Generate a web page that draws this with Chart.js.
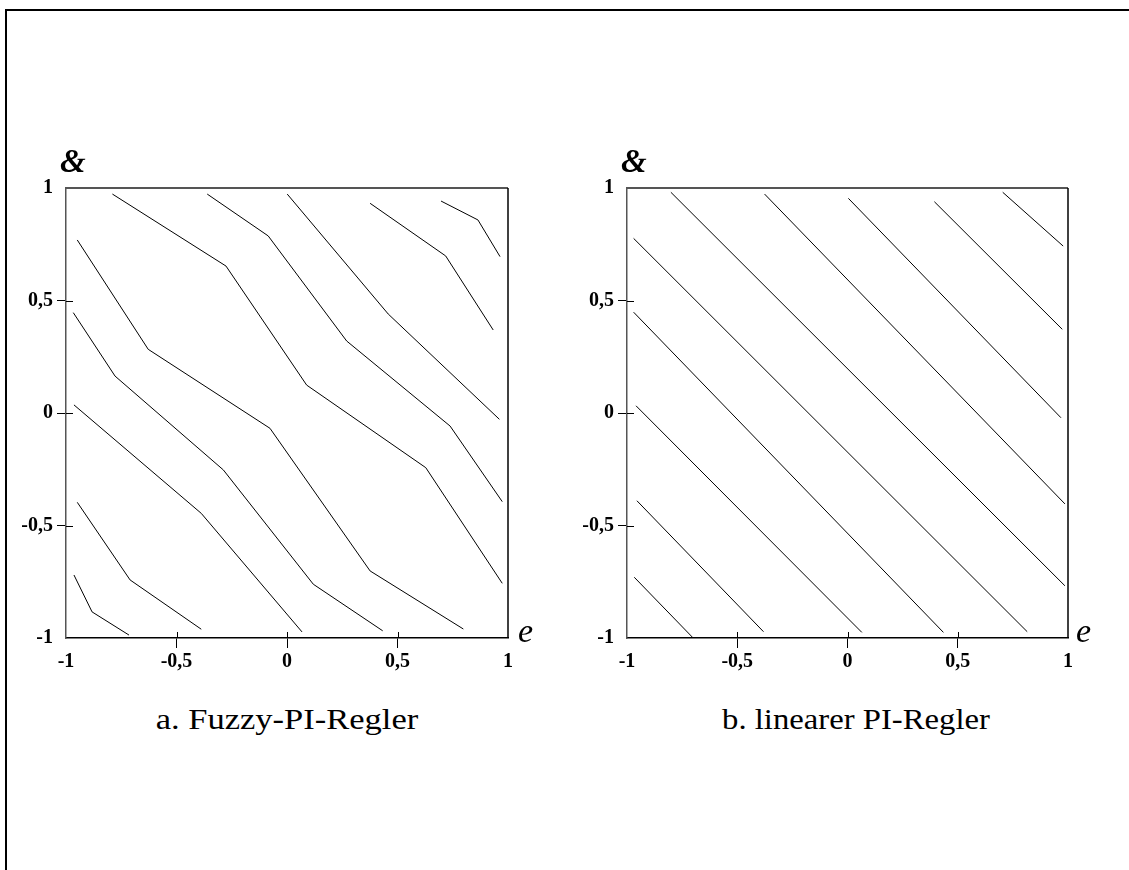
<!DOCTYPE html>
<html>
<head>
<meta charset="utf-8">
<script src="https://cdn.jsdelivr.net/npm/chart.js@4"></script>
<style>
  html, body { margin: 0; padding: 0; background: #fff; overflow: hidden; width: 1129px; height: 870px; }
  #frame { position: absolute; left: 5px; top: 9px; width: 1300px; height: 1000px;
           border-top: 2px solid #000; border-left: 2px solid #000; }
  canvas { position: absolute; }
  .lbl { position: absolute; font-family: "Liberation Serif", "Times New Roman", serif; color: #000;
         white-space: nowrap; line-height: 1; }
  .amp { font-size: 33px; font-style: italic; font-weight: bold; }
  .e { font-size: 34px; font-style: italic; }
  .cap { font-size: 30px; transform: translateX(-50%) scaleX(1.15); }
  .cap.b { transform: translateX(-50%) scaleX(1.09); }
</style>
</head>
<body>
<div id="frame"></div>
<canvas id="fuzzyCanvas" width="565" height="540" style="left:0;top:140px"></canvas>
<canvas id="linearCanvas" width="564" height="540" style="left:565px;top:140px"></canvas>

<div class="lbl amp" style="left:60px;top:145px">&amp;</div>
<div class="lbl amp" style="left:621px;top:145px">&amp;</div>
<div class="lbl e" style="left:518px;top:614px">e</div>
<div class="lbl e" style="left:1076px;top:614px">e</div>
<div class="lbl cap" style="left:287px;top:704px">a. Fuzzy-PI-Regler</div>
<div class="lbl cap b" style="left:856px;top:704px">b. linearer PI-Regler</div>

<script>
// tick positions and labels (German decimal comma)
var tickValues = [-1, -0.5, 0, 0.5, 1];
var tickLabels = ["-1", "-0,5", "0", "0,5", "1"];
var innerTicks = [-0.5, 0, 0.5];

// a. Fuzzy-PI-Regler, contour lines as [e, de] points
var fuzzy1 = [[-0.964, -0.72], [-0.882, -0.884], [-0.715, -0.987]];
var fuzzy2 = [[-0.949, -0.397], [-0.71, -0.742], [-0.388, -0.961]];
var fuzzy3 = [[-0.964, 0.036], [-0.388, -0.446], [0.068, -0.973]];
var fuzzy4 = [[-0.967, 0.446], [-0.778, 0.164], [-0.288, -0.253], [0.119, -0.761], [0.433, -0.968]];
var fuzzy5 = [[-0.949, 0.769], [-0.628, 0.283], [-0.077, -0.068], [0.376, -0.702], [0.798, -0.96]];
var fuzzy6 = [[-0.79, 0.973], [-0.276, 0.653], [0.089, 0.124], [0.628, -0.243], [0.974, -0.757]];
var fuzzy7 = [[-0.361, 0.973], [-0.085, 0.787], [0.27, 0.32], [0.738, -0.058], [0.974, -0.394]];
var fuzzy8 = [[0.001, 0.973], [0.458, 0.44], [0.961, -0.028]];
var fuzzy9 = [[0.376, 0.932], [0.718, 0.698], [0.933, 0.369]];
var fuzzy10 = [[0.697, 0.942], [0.864, 0.858], [0.964, 0.695]];

// b. linearer PI-Regler
var linear1 = [[-0.967, -0.73], [-0.703, -0.997]];
var linear2 = [[-0.955, -0.39], [-0.381, -0.972]];
var linear3 = [[-0.959, 0.032], [0.065, -0.975]];
var linear4 = [[-0.97, 0.448], [0.435, -0.975]];
var linear5 = [[-0.97, 0.776], [0.815, -0.972]];
var linear6 = [[-0.801, 0.981], [0.986, -0.768]];
var linear7 = [[-0.376, 0.973], [0.986, -0.404]];
var linear8 = [[0.004, 0.954], [0.968, -0.021]];
var linear9 = [[0.394, 0.939], [0.974, 0.372]];
var linear10 = [[0.704, 0.981], [0.978, 0.742]];

var fuzzyLines = [fuzzy1, fuzzy2, fuzzy3, fuzzy4, fuzzy5, fuzzy6, fuzzy7, fuzzy8, fuzzy9, fuzzy10];
var linearLines = [linear1, linear2, linear3, linear4, linear5, linear6, linear7, linear8, linear9, linear10];

var labelFont = { family: "'Liberation Serif', 'Times New Roman', serif", size: 20, weight: 'bold' };

function tickColor(ctx) {
  return (ctx.tick && Math.abs(ctx.tick.value) === 1) ? 'rgba(0,0,0,0)' : '#000';
}

// top/right frame of the plot and the part of the ticks inside the area
var framePlugin = {
  id: 'framePlugin',
  afterDraw: function(chart) {
    var c = chart.ctx, a = chart.chartArea;
    var xs = chart.scales.x, ys = chart.scales.y;
    c.save();
    c.strokeStyle = '#555';
    c.lineWidth = 2;
    c.beginPath();
    c.moveTo(a.left, a.top);
    c.lineTo(a.right, a.top);
    c.stroke();
    c.strokeStyle = '#000';
    c.lineWidth = 1.5;
    c.beginPath();
    c.moveTo(a.right, a.top);
    c.lineTo(a.right, a.bottom);
    c.stroke();
    c.lineWidth = 1;
    innerTicks.forEach(function(v) {
      var px = Math.round(xs.getPixelForValue(v)) + 0.5;
      c.beginPath();
      c.moveTo(px, a.bottom);
      c.lineTo(px, a.bottom - 6);
      c.stroke();
      var py = Math.round(ys.getPixelForValue(v)) + 0.5;
      c.beginPath();
      c.moveTo(a.left, py);
      c.lineTo(a.left + 7, py);
      c.stroke();
    });
    c.restore();
  }
};

function makeChart(id, lines, yWidth, padRight) {
  var datasets = lines.map(function(pts) {
    return {
      data: pts.map(function(p) { return { x: p[0], y: p[1] }; }),
      borderColor: '#000',
      borderWidth: 1,
      pointRadius: 0,
      showLine: true,
      fill: false,
      tension: 0
    };
  });
  return new Chart(document.getElementById(id), {
    type: 'scatter',
    data: { datasets: datasets },
    plugins: [framePlugin],
    options: {
      responsive: false,
      animation: false,
      layout: { padding: { top: 48, right: padRight, left: 0, bottom: 0 } },
      plugins: { legend: { display: false }, tooltip: { enabled: false } },
      scales: {
        x: {
          type: 'linear', min: -1, max: 1,
          afterBuildTicks: function(s) { s.ticks = tickValues.map(function(v) { return { value: v }; }); },
          afterFit: function(s) { s.height = 42; },
          ticks: {
            autoSkip: false, maxRotation: 0, padding: 2, color: '#000', font: labelFont,
            callback: function(v) { return tickLabels[tickValues.indexOf(v)]; }
          },
          grid: { drawOnChartArea: false, drawTicks: true, tickLength: 10, color: tickColor, tickColor: tickColor, lineWidth: 1 },
          border: { color: '#000', width: 1.5 }
        },
        y: {
          type: 'linear', min: -1, max: 1,
          afterBuildTicks: function(s) { s.ticks = tickValues.map(function(v) { return { value: v }; }); },
          afterFit: function(s) { s.width = yWidth; },
          ticks: {
            autoSkip: false, padding: 4, color: '#000', font: labelFont,
            callback: function(v) { return tickLabels[tickValues.indexOf(v)]; }
          },
          grid: { drawOnChartArea: false, drawTicks: true, tickLength: 9, color: tickColor, tickColor: tickColor, lineWidth: 1 },
          border: { color: '#555', width: 1.5 }
        }
      }
    }
  });
}

makeChart('fuzzyCanvas', fuzzyLines, 66, 57);
makeChart('linearCanvas', linearLines, 62, 61);
</script>
</body>
</html>
